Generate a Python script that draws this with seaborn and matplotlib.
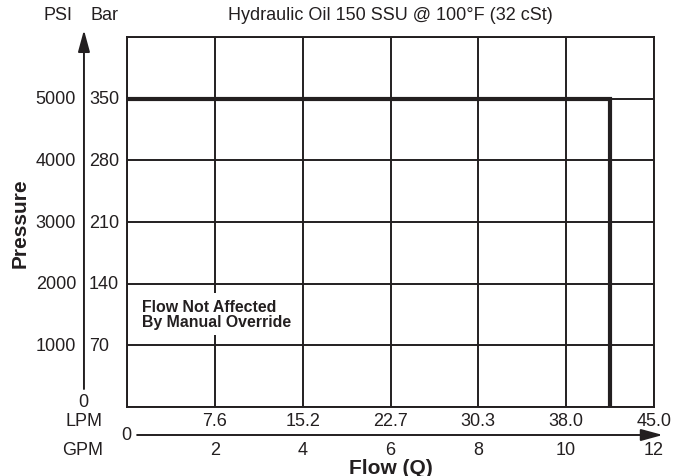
import matplotlib
matplotlib.use("Agg")
import matplotlib.pyplot as plt
import seaborn as sns
import pandas as pd

# ---- data ----
gpm_ticks = [2, 4, 6, 8, 10, 12]
lpm_labels = ["7.6", "15.2", "22.7", "30.3", "38.0", "45.0"]
psi_ticks = [1000, 2000, 3000, 4000, 5000]
bar_labels = ["70", "140", "210", "280", "350"]
curve_gpm = [0, 11, 11]
curve_psi = [5000, 5000, 0]
title_text = "Hydraulic Oil 150 SSU @ 100°F (32 cSt)"
note_lines = ["Flow Not Affected", "By Manual Override"]

sns.set_theme(style="white")
plt.rcParams["font.family"] = ["Liberation Sans", "DejaVu Sans"]
INK = "#231f20"

fig = plt.figure(figsize=(6.87, 4.77), dpi=100)
ax = fig.add_axes([127/687, 1-408/477, (654-127)/687, (408-38)/477])
ax.set_xlim(0, 12)
ax.set_ylim(0, 6000)

# grid
for x in range(0, 13, 2):
    ax.axvline(x, color=INK, lw=1.4, zorder=1)
for y in range(0, 6001, 1000):
    ax.axhline(y, color=INK, lw=1.4, zorder=1)
for s in ax.spines.values():
    s.set_color(INK)
    s.set_linewidth(1.4)
ax.set_xticks([])
ax.set_yticks([])

df = pd.DataFrame({"gpm": curve_gpm, "psi": curve_psi})
sns.lineplot(data=df, x="gpm", y="psi", sort=False, estimator=None,
             color=INK, lw=3.0, ax=ax, zorder=3)
ax.lines[-1].set_solid_joinstyle("miter")
ax.set_xlabel("")
ax.set_ylabel("")

FS = 13
kw = dict(fontsize=FS, color=INK, clip_on=False)

# y labels
for p, b in zip(psi_ticks, bar_labels):
    ax.text(-1.16, p, str(p), ha="right", va="center", **kw)
    ax.text(-0.865, p, b, ha="left", va="center", **kw)
ax.text(-0.99, 89, "0", ha="center", va="center", **kw)
ax.text(-1.25, 6357, "PSI", ha="right", va="center", **kw)
ax.text(-0.82, 6357, "Bar", ha="left", va="center", **kw)
ax.text(6, 6357, title_text, ha="center", va="center", **kw)
ax.text(-2.44, 3000, "Pressure", rotation=90, ha="center", va="center",
        fontsize=15, fontweight="bold", color=INK, clip_on=False)

# vertical arrow
ax.annotate("", xy=(-0.98, 6113), xytext=(-0.98, 292), xycoords="data",
            arrowprops=dict(arrowstyle="-|>,head_length=1.1,head_width=0.3",
                            color=INK, lw=1.4, shrinkA=0, shrinkB=0),
            annotation_clip=False)
# horizontal arrow
ax.annotate("", xy=(12.2, -454), xytext=(0.23, -454), xycoords="data",
            arrowprops=dict(arrowstyle="-|>,head_length=1.1,head_width=0.3",
                            color=INK, lw=1.4, shrinkA=0, shrinkB=0),
            annotation_clip=False)

# x labels
for g, l in zip(gpm_ticks, lpm_labels):
    ax.text(g, -227, l, ha="center", va="center", **kw)
    ax.text(g, -697, str(g), ha="center", va="center", **kw)
ax.text(-0.55, -227, "LPM", ha="right", va="center", **kw)
ax.text(-0.55, -697, "GPM", ha="right", va="center", **kw)
ax.text(-0.01, -454, "0", ha="center", va="center", **kw)
ax.text(6, -973, "Flow (Q)", ha="center", va="center",
        fontsize=15, fontweight="bold", color=INK, clip_on=False)

# note
ax.text(0.34, 1508, "\n".join(note_lines), ha="left", va="center",
        fontsize=11.4, fontweight="bold", color=INK, linespacing=1.0,
        zorder=4,
        bbox=dict(boxstyle="square,pad=0.35", fc="white", ec="none"))

fig.savefig("out.png", dpi=100)
